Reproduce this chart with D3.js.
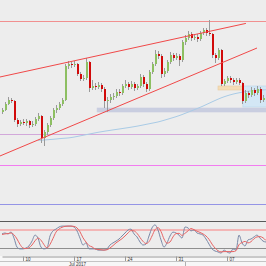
<!DOCTYPE html>
<html>
<head>
<meta charset="utf-8">
<script src="https://cdn.jsdelivr.net/npm/d3@7"></script>
<style>
html, body { margin: 0; padding: 0; background: #ededed; }
svg { display: block; font-family: "Liberation Sans", Arial, sans-serif; }
</style>
</head>
<body>
<svg id="chart" width="266" height="266"></svg>
<script>
// candle data, one per bar (price)
var openP = [1.1776,1.1780,1.1792,1.1800,1.1798,1.1760,1.1752,1.1756,1.1754,1.1758,1.1750,1.1752,1.1762,1.1768,1.1724,1.1736,1.1750,1.1764,1.1780,1.1784,
  1.1792,1.1800,1.1868,1.1872,1.1870,1.1872,1.1852,1.1842,1.1844,1.1876,1.1824,1.1828,1.1826,1.1830,1.1822,1.1798,1.1800,1.1806,1.1808,1.1816,
  1.1814,1.1828,1.1832,1.1826,1.1832,1.1824,1.1828,1.1846,1.1832,1.1822,1.1856,1.1872,1.1892,1.1888,1.1852,1.1858,1.1876,1.1890,1.1884,1.1888,
  1.1880,1.1916,1.1924,1.1932,1.1924,1.1926,1.1922,1.1934,1.1940,1.1934,1.1932,1.1890,1.1884,1.1900,1.1832,1.1838,1.1844,1.1840,1.1836,1.1840,
  1.1834,1.1798,1.1814,1.1810,1.1820,1.1814,1.1822,1.1800,1.1804];
var highP = [1.1784,1.1796,1.1806,1.1804,1.1800,1.1764,1.1760,1.1762,1.1762,1.1760,1.1758,1.1766,1.1774,1.1770,1.1740,1.1754,1.1768,1.1784,1.1790,1.1796,
  1.1804,1.1872,1.1878,1.1876,1.1878,1.1874,1.1856,1.1850,1.1884,1.1878,1.1840,1.1834,1.1836,1.1834,1.1826,1.1806,1.1812,1.1814,1.1822,1.1822,
  1.1832,1.1840,1.1836,1.1838,1.1836,1.1832,1.1852,1.1850,1.1836,1.1860,1.1876,1.1900,1.1898,1.1892,1.1864,1.1880,1.1896,1.1894,1.1894,1.1892,
  1.1920,1.1930,1.1938,1.1936,1.1932,1.1932,1.1938,1.1944,1.1944,1.1960,1.1934,1.1894,1.1904,1.1902,1.1842,1.1848,1.1848,1.1844,1.1844,1.1844,
  1.1836,1.1820,1.1818,1.1826,1.1824,1.1828,1.1826,1.1810,1.1808];
var lowP = [1.1772,1.1778,1.1790,1.1794,1.1756,1.1746,1.1748,1.1750,1.1748,1.1744,1.1746,1.1748,1.1758,1.1714,1.1708,1.1730,1.1746,1.1760,1.1774,1.1780,
  1.1788,1.1798,1.1862,1.1864,1.1866,1.1848,1.1838,1.1838,1.1840,1.1816,1.1820,1.1820,1.1822,1.1816,1.1784,1.1776,1.1794,1.1800,1.1804,1.1808,
  1.1810,1.1824,1.1820,1.1822,1.1818,1.1820,1.1824,1.1826,1.1816,1.1818,1.1852,1.1868,1.1882,1.1844,1.1846,1.1854,1.1872,1.1878,1.1880,1.1868,
  1.1876,1.1910,1.1920,1.1918,1.1920,1.1916,1.1918,1.1930,1.1928,1.1928,1.1884,1.1874,1.1880,1.1828,1.1828,1.1834,1.1834,1.1830,1.1832,1.1830,
  1.1792,1.1794,1.1804,1.1806,1.1808,1.1810,1.1794,1.1796,1.1794];
var closeP = [1.1780,1.1792,1.1800,1.1798,1.1760,1.1752,1.1756,1.1754,1.1758,1.1750,1.1752,1.1762,1.1768,1.1724,1.1736,1.1750,1.1764,1.1780,1.1784,1.1792,
  1.1800,1.1868,1.1872,1.1870,1.1872,1.1852,1.1842,1.1844,1.1876,1.1824,1.1828,1.1826,1.1830,1.1822,1.1798,1.1800,1.1806,1.1808,1.1816,1.1814,
  1.1828,1.1832,1.1826,1.1832,1.1824,1.1828,1.1846,1.1832,1.1822,1.1856,1.1872,1.1892,1.1888,1.1852,1.1858,1.1876,1.1890,1.1884,1.1888,1.1880,
  1.1916,1.1924,1.1932,1.1924,1.1926,1.1922,1.1934,1.1940,1.1934,1.1932,1.1890,1.1884,1.1900,1.1832,1.1838,1.1844,1.1840,1.1836,1.1840,1.1834,
  1.1798,1.1814,1.1810,1.1820,1.1814,1.1822,1.1800,1.1804,1.1800];

// moving average, starts at bar 12
var maStart = 12;
var maP = [1.1719,1.17194,1.1720,1.17204,1.1721,1.17214,1.1722,1.17226,1.17232,1.17236,1.1724,1.17248,1.17258,1.1727,1.17282,1.17294,1.17306,1.17318,
  1.1733,1.17342,1.17354,1.17364,1.17374,1.17384,1.17392,1.17402,1.1741,1.1742,1.17428,1.17438,1.17446,1.17456,1.17466,1.17476,1.17488,1.175,
  1.17512,1.17524,1.17536,1.17548,1.1756,1.17576,1.17594,1.17612,1.1763,1.17648,1.17666,1.17686,1.17708,1.17732,1.17756,1.1778,1.17804,1.17828,
  1.17852,1.17878,1.17906,1.17934,1.17962,1.1799,1.18016,1.18042,1.18064,1.18084,1.18102,1.18118,1.18132,1.18144,1.18156,1.18166,1.18174,
  1.18182,1.18188,1.18194,1.18198,1.18202,1.18206];

// stochastic %K and %D
var stochK = [67,70,67,73,53,23,17,17,20,27,43,63,53,23,17,20,60,77,83,90,93,93,93,93,90,77,53,30,37,17,17,17,13,13,13,17,30,37,43,50,
  60,70,80,83,67,57,40,30,33,60,87,97,80,47,23,37,60,73,70,63,53,90,87,77,80,70,67,63,50,33,17,10,7,3,13,7,3,17,13,63,
  37,27,47,50,57,63,53,43,40];
var stochD = [65,67,68,70,64,50,32,20,18,21,30,44,53,46,31,20,32,52,73,83,89,92,93,93,92,87,74,54,40,28,24,17,15,14,13,14,20,28,37,44,
  51,60,70,78,77,69,55,42,35,41,60,81,88,75,50,36,40,57,68,69,62,69,77,85,81,76,72,67,60,49,33,20,11,7,8,8,8,8,11,31,
  38,42,37,41,51,57,58,54,45];
var stochLevels = [80, 20];

// drawn objects
var hLevels = [
  {price: 1.1958, color: "#f19090"},
  {price: 1.1732, color: "#d2a8da"},
  {price: 1.1670, color: "#f27cf0"},
  {price: 1.1592, color: "#9494e6"}
];
var trendLines = [
  {i1: -0.7, p1: 1.1846, i2: 81.3, p2: 1.19532},
  {i1: -0.7, p1: 1.1688, i2: 85.0, p2: 1.1904}
];
var zones = [
  {i1: 31.7, i2: 90, top: 1.1784, bottom: 1.1776, fill: "#c9cee0", stroke: "#c9cee0"},
  {i1: 72.0, i2: 80.3, top: 1.1828, bottom: 1.1820, fill: "#f4dcb6", stroke: "#e9cca0"},
  {i1: 80.3, i2: 90, top: 1.1828, bottom: 1.1786, fill: "#d3e7f5", stroke: "#b9d5ea"}
];

// time axis
var tickBars = [7, 24, 41, 58, 75];
var tickLabels = ["10", "17", "24", "31", "07"];
var monthLabel = "Jul 2017";

var W = 266, mainBottom = 221, oscBottom = 256, H = 266;

var svg = d3.select("#chart");

var x = d3.scaleLinear().domain([0, 88]).range([2, 266]);
var y = d3.scaleLinear().domain([1.1558, 1.2000]).range([mainBottom, 0]);
var ys = d3.scaleLinear().domain([0, 100]).range([254, 224]);

svg.append("rect").attr("width", W).attr("height", H).attr("fill", "#ededed");

var defs = svg.append("defs");
defs.append("clipPath").attr("id", "clipMain")
  .append("rect").attr("width", W).attr("height", mainBottom);
defs.append("clipPath").attr("id", "clipOsc")
  .append("rect").attr("y", mainBottom).attr("width", W).attr("height", oscBottom - mainBottom);

var main = svg.append("g").attr("clip-path", "url(#clipMain)");

// zones
main.selectAll("rect.zone")
  .data(zones)
  .enter().append("rect")
  .attr("class", "zone")
  .attr("x", function(d) { return x(d.i1); })
  .attr("y", function(d) { return y(d.top); })
  .attr("width", function(d) { return x(d.i2) - x(d.i1); })
  .attr("height", function(d) { return y(d.bottom) - y(d.top); })
  .attr("fill", function(d) { return d.fill; })
  .attr("stroke", function(d) { return d.stroke; })
  .attr("stroke-width", 0.6);

// horizontal levels
main.selectAll("line.level")
  .data(hLevels)
  .enter().append("line")
  .attr("class", "level")
  .attr("x1", 0).attr("x2", W)
  .attr("y1", function(d) { return Math.round(y(d.price)) + 0.5; })
  .attr("y2", function(d) { return Math.round(y(d.price)) + 0.5; })
  .attr("stroke", function(d) { return d.color; })
  .attr("stroke-width", 1);

// moving average
var maLine = d3.line()
  .x(function(d, i) { return x(i + maStart); })
  .y(function(d) { return y(d); })
  .curve(d3.curveBasis);
main.append("path")
  .datum(maP)
  .attr("d", maLine)
  .attr("fill", "none")
  .attr("stroke", "#a9cbe6")
  .attr("stroke-width", 1);

// candles
var bars = d3.range(openP.length);
var candles = main.selectAll("g.candle")
  .data(bars)
  .enter().append("g")
  .attr("class", "candle");

candles.append("line")
  .attr("x1", function(i) { return Math.round(x(i)) + 0.5; })
  .attr("x2", function(i) { return Math.round(x(i)) + 0.5; })
  .attr("y1", function(i) { return y(highP[i]); })
  .attr("y2", function(i) { return y(lowP[i]); })
  .attr("stroke", "#9a9a9a")
  .attr("stroke-width", 1);

candles.append("rect")
  .attr("x", function(i) { return Math.round(x(i)) - 0.5; })
  .attr("width", 2)
  .attr("y", function(i) { return y(Math.max(openP[i], closeP[i])); })
  .attr("height", function(i) { return Math.max(1, Math.abs(y(openP[i]) - y(closeP[i]))); })
  .attr("fill", function(i) { return closeP[i] >= openP[i] ? "#8dbf62" : "#d10a0a"; })
  .attr("shape-rendering", "crispEdges");

// trend lines
main.selectAll("line.trend")
  .data(trendLines)
  .enter().append("line")
  .attr("class", "trend")
  .attr("x1", function(d) { return x(d.i1); })
  .attr("y1", function(d) { return y(d.p1); })
  .attr("x2", function(d) { return x(d.i2); })
  .attr("y2", function(d) { return y(d.p2); })
  .attr("stroke", "#f04848")
  .attr("stroke-width", 1);

// oscillator panel
var osc = svg.append("g").attr("clip-path", "url(#clipOsc)");

osc.append("line")
  .attr("x1", 0).attr("x2", W)
  .attr("y1", Math.round(ys(stochLevels[0])))
  .attr("y2", Math.round(ys(stochLevels[0])))
  .attr("stroke", "#f3b6b6").attr("stroke-width", 2);
osc.append("line")
  .attr("x1", 0).attr("x2", W)
  .attr("y1", Math.round(ys(stochLevels[1])) + 0.5)
  .attr("y2", Math.round(ys(stochLevels[1])) + 0.5)
  .attr("stroke", "#8e8e8e").attr("stroke-width", 1);

var stLine = d3.line()
  .x(function(d, i) { return x(i); })
  .y(function(d) { return ys(d); })
  .curve(d3.curveMonotoneX);

osc.append("path").datum(stochK)
  .attr("d", stLine).attr("fill", "none")
  .attr("stroke", "#7a88a6").attr("stroke-width", 1);
osc.append("path").datum(stochD)
  .attr("d", stLine).attr("fill", "none")
  .attr("stroke", "#e86464").attr("stroke-width", 1);

// panel separator
svg.append("line")
  .attr("x1", 0).attr("x2", W)
  .attr("y1", mainBottom + 0.5).attr("y2", mainBottom + 0.5)
  .attr("stroke", "#5a5a5a").attr("stroke-width", 1);

// time axis
svg.append("rect")
  .attr("y", oscBottom).attr("width", W).attr("height", H - oscBottom)
  .attr("fill", "#f7f7f7");

var xAxis = d3.axisBottom(x)
  .tickValues(tickBars)
  .tickFormat(function(d, i) { return tickLabels[i]; })
  .tickSize(5)
  .tickSizeOuter(0);

var ax = svg.append("g")
  .attr("transform", "translate(0," + (oscBottom + 0.5) + ")")
  .call(xAxis);
ax.select(".domain").attr("stroke", "#9a9a9a");
ax.selectAll(".tick line").attr("stroke", "#9a9a9a");
ax.selectAll(".tick text")
  .attr("x", 2).attr("y", 1).attr("dy", "0.71em")
  .attr("text-anchor", "start")
  .attr("font-size", 4.5)
  .attr("fill", "#333");

svg.append("line")
  .attr("x1", 0).attr("x2", W)
  .attr("y1", 261.5).attr("y2", 261.5)
  .attr("stroke", "#c4c4c4");
svg.append("line")
  .attr("x1", 185.5).attr("x2", 185.5)
  .attr("y1", 262).attr("y2", H)
  .attr("stroke", "#b0b0b0");
svg.append("text")
  .attr("x", 69).attr("y", 265.5)
  .attr("font-size", 4.5)
  .attr("fill", "#333")
  .text(monthLabel);
</script>
</body>
</html>
